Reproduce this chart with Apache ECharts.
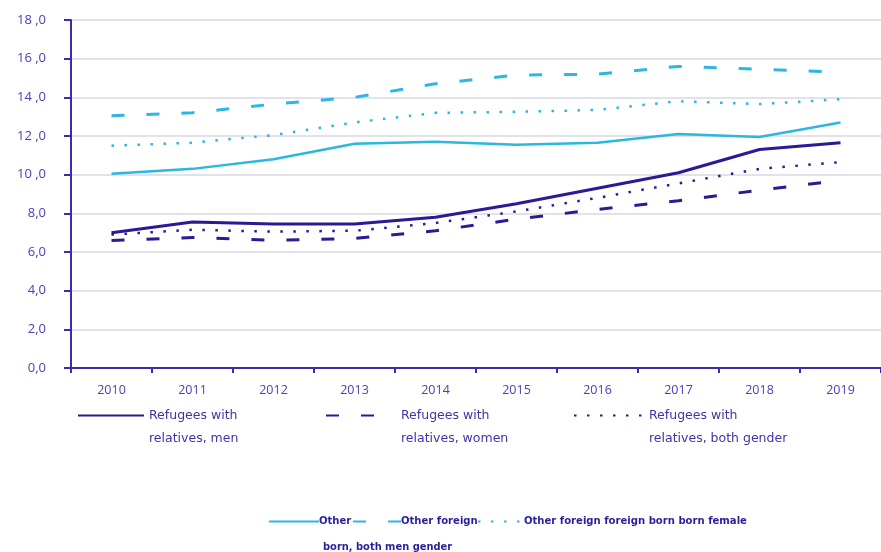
<!DOCTYPE html>
<html>
<head>
<meta charset="utf-8">
<script src="https://cdn.jsdelivr.net/npm/echarts@6/dist/echarts.min.js"></script>
<style>
html, body { margin: 0; padding: 0; background: #fff; }
#chart { width: 881px; height: 552px; }
</style>
</head>
<body>
<div id="chart"></div>
<script>
// years on the x axis
var years = ['2010', '2011', '2012', '2013', '2014', '2015', '2016', '2017', '2018', '2019'];

// refugees with relatives (navy)
var refMen = [7.0, 7.55, 7.45, 7.45, 7.8, 8.5, 9.3, 10.1, 11.3, 11.65];
var refWomen = [6.6, 6.75, 6.6, 6.7, 7.1, 7.7, 8.2, 8.65, 9.2, 9.7];
var refBoth = [6.9, 7.15, 7.05, 7.1, 7.5, 8.1, 8.8, 9.55, 10.3, 10.65];

// other groups (cyan)
var other = [10.05, 10.3, 10.8, 11.6, 11.7, 11.55, 11.65, 12.1, 11.95, 12.7];
var otherForeign = [13.05, 13.2, 13.65, 14.0, 14.7, 15.15, 15.2, 15.6, 15.45, 15.3];
var otherForeignBoth = [11.5, 11.65, 12.05, 12.7, 13.2, 13.25, 13.35, 13.8, 13.65, 13.9];

var navy = '#2a1a96';
var cyan = '#2cb6e2';
var labelColor = '#4b40b8';

var myChart = echarts.init(document.getElementById('chart'));

function mkLine(name, data, color, type, width) {
    return {
        name: name,
        type: 'line',
        data: data,
        symbol: 'none',
        smooth: false,
        silent: true,
        color: color,
        lineStyle: { color: color, width: width, type: type, cap: 'butt' },
        z: 3
    };
}

//上方图例：空的第一行让图标对齐文字第一行
function refLegend(name, left, w) {
    return {
        data: [name],
        left: left,
        top: 376,
        itemWidth: w,
        itemHeight: 10,
        selectedMode: false,
        itemStyle: { opacity: 0 },
        formatter: function (n) {
            return '\n' + n.replace('with ', 'with\n');
        },
        textStyle: {
            color: '#3d34a8',
            fontSize: 12.5,
            fontFamily: 'DejaVu Sans',
            lineHeight: 23
        }
    };
}

//下方图例（挤在一起的压缩字体）
function otherLegend(name, left, w) {
    return {
        data: [name],
        left: left,
        top: 511,
        itemWidth: w,
        itemHeight: 10,
        selectedMode: false,
        itemStyle: { opacity: 0 },
        textStyle: {
            color: '#2a1f9a',
            fontSize: 11.2,
            fontWeight: 'bold',
            fontFamily: 'DejaVu Sans Condensed',
            padding: [0, 0, 0, -5]
        }
    };
}

myChart.setOption({
    animation: false,
    backgroundColor: '#ffffff',
    grid: {
        left: 71,
        right: -7,
        top: 20,
        bottom: 184,
        containLabel: false
    },
    legend: [
        refLegend('Refugees with relatives, men', 72, 66),
        refLegend('Refugees with relatives, women', 320, 70),
        refLegend('Refugees with relatives, both gender', 568, 70),
        otherLegend('Other', 263, 50),
        otherLegend('Other foreign', 347, 48),
        otherLegend('Other foreign foreign born born female', 472, 46)
    ],
    graphic: [
        {
            type: 'text',
            left: 323,
            top: 542,
            style: {
                text: 'born, both men gender',
                fill: '#2a1f9a',
                font: 'bold 11px "DejaVu Sans Condensed"'
            }
        }
    ],
    xAxis: {
        type: 'category',
        data: years,
        boundaryGap: true,
        axisLine: { lineStyle: { color: '#3a2cb0', width: 2 } },
        axisTick: { show: true, length: 5, lineStyle: { color: '#3a2cb0', width: 2 } },
        axisLabel: {
            color: labelColor,
            fontSize: 12.5,
            fontFamily: 'Open Sans',
            margin: 16
        },
        splitLine: { show: false }
    },
    yAxis: {
        type: 'value',
        min: 0,
        max: 18,
        interval: 2,
        axisLine: { show: true, lineStyle: { color: '#3a2cb0', width: 2 } },
        axisTick: { show: true, length: 7, lineStyle: { color: '#3a2cb0', width: 2 } },
        axisLabel: {
            color: labelColor,
            fontSize: 13,
            fontFamily: 'Open Sans',
            margin: 25,
            formatter: function (v) {
                var s = v.toFixed(1).replace('.', ',');
                if (v >= 10) {
                    s = s.replace(',', ' ,');
                }
                return s;
            }
        },
        splitLine: { lineStyle: { color: '#d8d8e4', width: 1.5 } }
    },
    series: [
        mkLine('Other', other, cyan, 'solid', 2.5),
        mkLine('Other foreign', otherForeign, cyan, [13, 22], 3),
        mkLine('Other foreign foreign born born female', otherForeignBoth, cyan, [2.5, 10.5], 2.5),
        mkLine('Refugees with relatives, men', refMen, navy, 'solid', 3),
        mkLine('Refugees with relatives, women', refWomen, navy, [13, 22], 3),
        mkLine('Refugees with relatives, both gender', refBoth, navy, [2.5, 10.5], 2.5)
    ]
});
</script>
</body>
</html>
